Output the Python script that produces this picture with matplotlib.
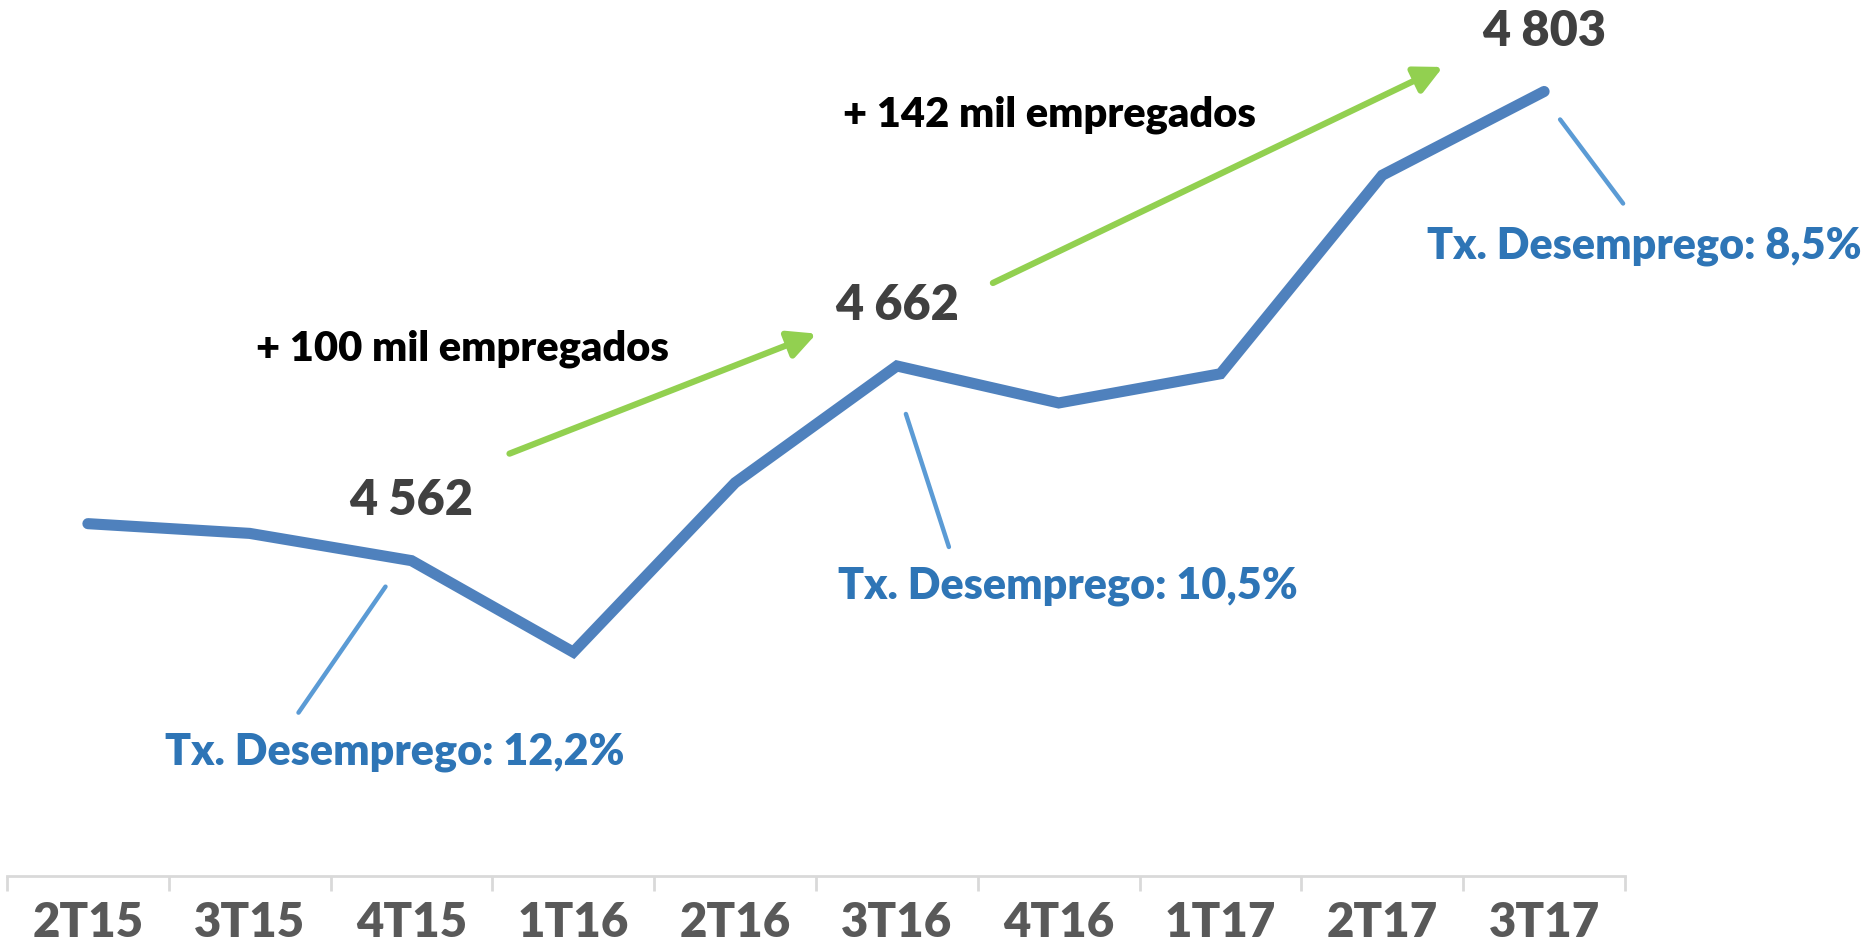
import matplotlib
matplotlib.use("Agg")
import matplotlib.pyplot as plt
import matplotlib.transforms as mtransforms

# dados (mil empregados), valores intermedios
trimestres = ['2T15', '3T15', '4T15', '1T16', '2T16', '3T16', '4T16', '1T17', '2T17', '3T17']
empregados = [4581, 4576, 4562, 4515, 4602, 4662, 4643, 4658, 4760, 4803]
rotulos_idx = [2, 5, 9]
rotulos_txt = ['4 562', '4 662', '4 803']
desemprego_txt = ['Tx. Desemprego: 12,2%', 'Tx. Desemprego: 10,5%', 'Tx. Desemprego: 8,5%']
ganhos_txt = ['+ 100 mil empregados', '+ 142 mil empregados']

plt.rcParams['font.family'] = ['Lato', 'DejaVu Sans']

fig = plt.figure(figsize=(18.72, 9.5), dpi=100)
ax = fig.add_axes([7 / 1872, 74 / 950, 1618 / 1872, 876 / 950])
x = list(range(len(trimestres)))
ax.plot(x, empregados, color='#4F81BD', lw=8, solid_capstyle='round', solid_joinstyle='miter')
ax.set_xlim(-0.5, len(trimestres) - 0.5)
ax.set_ylim(4400, 4850)

for s in ['top', 'right', 'left']:
    ax.spines[s].set_visible(False)
ax.spines['bottom'].set_color('#D9D9D9')
ax.spines['bottom'].set_linewidth(2)
ax.set_yticks([])
ax.set_xticks(x)
ax.set_xticklabels(trimestres, fontsize=34, fontweight='heavy', color='#595959')
ax.tick_params(axis='x', length=0, pad=18)
ax.set_xticks([i - 0.5 for i in range(len(trimestres) + 1)], minor=True)
ax.tick_params(axis='x', which='minor', length=11, width=2, color='#D9D9D9')


def seta(i, ini, fim, **props):
    # linha/seta com extremos dados em pixeis relativos ao ponto i
    tr = mtransforms.offset_copy(ax.transData, fig=fig, x=fim[0], y=fim[1], units='dots')
    ax.annotate('', xy=(i, empregados[i]), xycoords=tr,
                xytext=(ini[0] - fim[0], ini[1] - fim[1]), textcoords='offset pixels',
                arrowprops=dict(shrinkA=0, shrinkB=0, **props))


# valores
for i, t in zip(rotulos_idx, rotulos_txt):
    ax.annotate(t, (i, empregados[i]), xytext=(0, 60), textcoords='offset pixels',
                ha='center', va='center', fontsize=35, fontweight='heavy', color='#404040')

# taxa de desemprego
desl_txt = [(-17, -191), (171, -220), (100, -155)]
desl_lin = [((-113, -152), (-26, -26)), ((52, -181), (9, -48)), ((79, -112), (16, -28))]
for i, t, d, (a, b) in zip(rotulos_idx, desemprego_txt, desl_txt, desl_lin):
    ax.annotate(t, (i, empregados[i]), xytext=d, textcoords='offset pixels',
                ha='center', va='center', fontsize=31, fontweight='heavy', color='#2E75B6')
    seta(i, a, b, arrowstyle='-', color='#5B9BD5', lw=3.2)

# setas verdes
seta(2, (98, 107), (405, 227), arrowstyle='-|>,head_length=1.2,head_width=0.6',
     mutation_scale=14, color='#92D050', lw=4.5)
seta(5, (96, 83), (546, 299), arrowstyle='-|>,head_length=1.2,head_width=0.6',
     mutation_scale=14, color='#92D050', lw=4.5)
for i, t, d in zip([2, 5], ganhos_txt, [(51, 212), (153, 251)]):
    ax.annotate(t, (i, empregados[i]), xytext=d, textcoords='offset pixels',
                ha='center', va='center', fontsize=30, fontweight='heavy', color='black')

fig.savefig('out.png', dpi=100)
